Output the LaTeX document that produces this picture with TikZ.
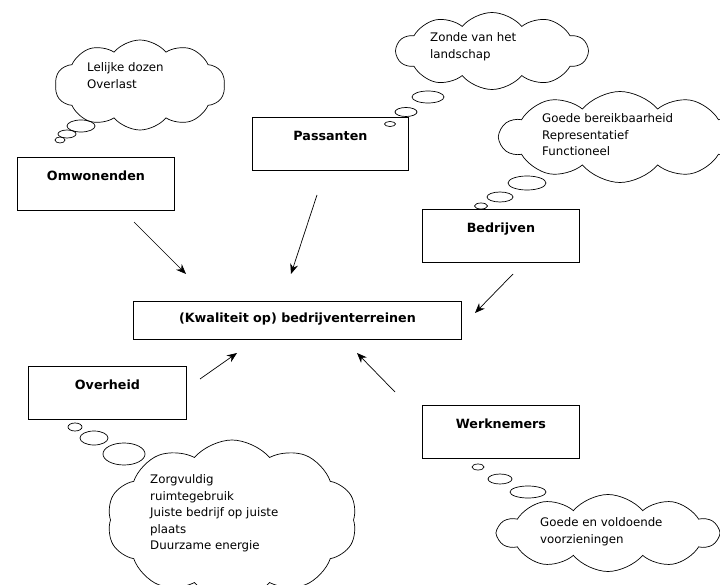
\documentclass[tikz,border=0pt]{standalone}
\usepackage{fontspec}
\setmainfont{DejaVu Sans}
\usepackage{tikz}
\usetikzlibrary{positioning, arrows.meta, shapes.symbols}

\begin{document}
\begin{tikzpicture}[x=1pt, y=-1pt,
    actor/.style={draw, line width=0.9pt, anchor=north west, minimum width=157pt,
      inner xsep=0pt, inner ysep=0pt, text height=23pt, text depth=30pt,
      font=\fontsize{12.7}{15}\selectfont\bfseries},
    thought/.style={cloud, draw, cloud puffs=10, cloud puff arc=100,
      cloud ignores aspect, line width=0.7pt},
    wish/.style={anchor=north west, inner sep=0pt, align=left,
      font=\fontsize{11.8}{16.5}\selectfont},
    puff/.style={line width=0.7pt},
    arr/.style={line width=0.7pt, -{Stealth[length=10pt, width=8pt]}}]
  \clip (0,0) rectangle (720,585);

  % actors
  \node[actor] (omw) at (17,157) {Omwonenden};
  \node[actor, minimum width=156pt] (pas) at (252,117) {Passanten};
  \node[actor] (bed) at (422,209) {Bedrijven};
  \node[actor, minimum width=158pt] (ovh) at (28,366) {Overheid};
  \node[actor] (wrk) at (422,405) {Werknemers};
  \node[actor, minimum width=328pt, text height=21pt, text depth=17pt] (kwal) at (133,301)
    {(Kwaliteit op) bedrijventerreinen};

  % clouds
  \node[thought, minimum width=170pt, minimum height=90pt] (omw-c) at (140,85) {};
  \node[wish] (omw-t) at (87,62.5) {Lelijke dozen\\Overlast};
  \draw[puff] (81,126) ellipse [x radius=14pt, y radius=6pt];
  \draw[puff] (67,134) ellipse [x radius=9pt, y radius=4pt];
  \draw[puff] (60,140) ellipse [x radius=5pt, y radius=3pt];

  \node[thought, minimum width=191pt, minimum height=77pt] (pas-c) at (492,51) {};
  \node[wish] (pas-t) at (430,32.5) {Zonde van het\\landschap};
  \draw[puff] (428,97) ellipse [x radius=16pt, y radius=6pt];
  \draw[puff] (406,112) ellipse [x radius=11pt, y radius=4.5pt];
  \draw[puff] (390,124) ellipse [x radius=5.5pt, y radius=2.5pt];

  \node[thought, minimum width=240pt, minimum height=91pt] (bed-c) at (620,137) {};
  \node[wish] (bed-t) at (542,113.5) {Goede bereikbaarheid\\Representatief\\Functioneel};
  \draw[puff] (527,183) ellipse [x radius=19pt, y radius=7pt];
  \draw[puff] (500,197) ellipse [x radius=13pt, y radius=5pt];
  \draw[puff] (481,206) ellipse [x radius=6.5pt, y radius=3pt];

  \node[thought, minimum width=250pt, minimum height=160pt] (ovh-c) at (232,520) {};
  \node[wish] (ovh-t) at (150,474.5)
    {Zorgvuldig\\ruimtegebruik\\Juiste bedrijf op juiste\\plaats\\Duurzame energie};
  \draw[puff] (75,427) ellipse [x radius=7pt, y radius=4pt];
  \draw[puff] (94,438) ellipse [x radius=14pt, y radius=7pt];
  \draw[puff] (124,454) ellipse [x radius=21pt, y radius=11pt];

  \node[thought, minimum width=220pt, minimum height=77pt] (wrk-c) at (608,533) {};
  \node[wish] (wrk-t) at (540,517.5) {Goede en voldoende\\voorzieningen};
  \draw[puff] (478,467) ellipse [x radius=6pt, y radius=3pt];
  \draw[puff] (500,479) ellipse [x radius=12pt, y radius=5pt];
  \draw[puff] (528,492) ellipse [x radius=18pt, y radius=6pt];

  % arrows
  \coordinate (omw-a) at (134,222);
  \coordinate (omw-b) at (186,274);
  \coordinate (pas-a) at (317,195);
  \coordinate (pas-b) at (291,274);
  \coordinate (bed-a) at (513,274);
  \coordinate (bed-b) at (475,313);
  \coordinate (ovh-a) at (200,379);
  \coordinate (ovh-b) at (237,353);
  \coordinate (wrk-a) at (395,392);
  \coordinate (wrk-b) at (357,353);
  \draw[arr] (omw-a) -- (omw-b);
  \draw[arr] (pas-a) -- (pas-b);
  \draw[arr] (bed-a) -- (bed-b);
  \draw[arr] (ovh-a) -- (ovh-b);
  \draw[arr] (wrk-a) -- (wrk-b);
\end{tikzpicture}
\end{document}
